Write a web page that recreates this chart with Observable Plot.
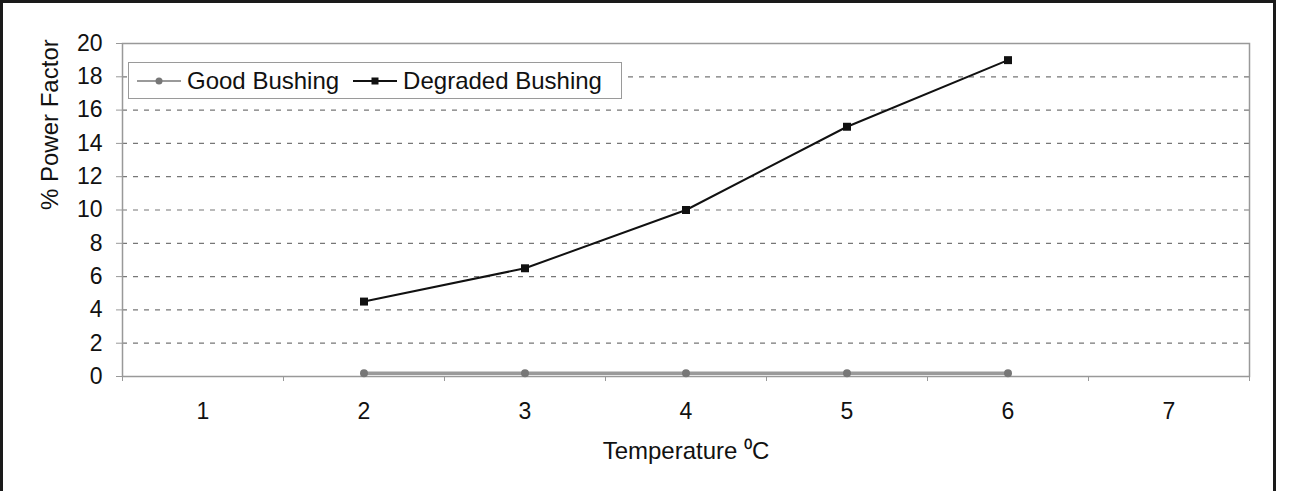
<!DOCTYPE html>
<html>
<head>
<meta charset="utf-8">
<script src="https://cdn.jsdelivr.net/npm/d3@7"></script>
<script src="https://cdn.jsdelivr.net/npm/@observablehq/plot@0.6"></script>
<style>
  html, body { margin: 0; padding: 0; background: #fff; }
  #wrap { position: relative; width: 1304px; height: 491px; font-family: "Liberation Sans", Arial, sans-serif; }
  #border { position: absolute; left: 0; top: 0; width: 1270px; height: 500px; border: 3px solid #1a1a1a; border-bottom: none; pointer-events: none; }
  #legend { position: absolute; left: 128px; top: 62px; width: 494px; height: 37px; border: 1px solid #9a9a9a; background: #fff;
            display: flex; align-items: center; font-size: 24px; color: #111; box-sizing: border-box; }
  #legend .item { display: flex; align-items: center; }
  #legend svg { display: block; }
</style>
</head>
<body>
<div id="wrap">
  <div id="chart"></div>
  <div id="legend"></div>
  <div id="border"></div>
</div>
<script>
// ---- data ----
const categories = [1, 2, 3, 4, 5, 6, 7];
const temperatures = [2, 3, 4, 5, 6];
const goodBushing = [0.2, 0.2, 0.2, 0.2, 0.2];
const degradedBushing = [4.5, 6.5, 10, 15, 19];
const yTicks = [0, 2, 4, 6, 8, 10, 12, 14, 16, 18, 20];
const seriesNames = ["Good Bushing", "Degraded Bushing"];
const yLabel = "% Power Factor";
const xLabel = "Temperature \u2070C";

// ---- derived tables ----
const good = temperatures.map((t, i) => ({t, v: goodBushing[i]}));
const degraded = temperatures.map((t, i) => ({t, v: degradedBushing[i]}));
const boundaries = categories.map(c => c - 0.5).concat([categories[categories.length - 1] + 0.5]);
const gridTicks = yTicks.slice(1, -1);

const chart = Plot.plot({
  width: 1304,
  height: 491,
  marginLeft: 122,
  marginRight: 55,
  marginTop: 43,
  marginBottom: 115,
  style: {fontFamily: "'Liberation Sans', Arial, sans-serif", background: "none", color: "#111"},
  x: {type: "linear", domain: [boundaries[0], boundaries[boundaries.length - 1]]},
  y: {domain: [yTicks[0], yTicks[yTicks.length - 1]]},
  marks: [
    Plot.gridY(gridTicks, {stroke: "#777", strokeOpacity: 1, strokeWidth: 1.2, strokeDasharray: "5,6"}),
    Plot.frame({stroke: "#999", strokeWidth: 1.5}),
    Plot.axisY(yTicks, {tickSize: 6, tickPadding: 14, fontSize: 23, stroke: "#999", label: null}),
    Plot.axisX(categories, {tickSize: 0, tickPadding: 26, fontSize: 23, tickFormat: d => String(d), label: null}),
    Plot.axisX(boundaries, {tickSize: 5, tickFormat: () => "", stroke: "#999", label: null}),
    Plot.text([yLabel], {frameAnchor: "left", rotate: -90, dx: -72, fontSize: 24, fill: "#111"}),
    Plot.text([xLabel], {frameAnchor: "bottom", dy: 82, fontSize: 24, fill: "#111"}),
    Plot.line(good, {x: "t", y: "v", stroke: "#9a9a9a", strokeWidth: 3.5}),
    Plot.dot(good, {x: "t", y: "v", r: 4, fill: "#777", stroke: "none"}),
    Plot.line(degraded, {x: "t", y: "v", stroke: "#111", strokeWidth: 2}),
    Plot.dot(degraded, {x: "t", y: "v", symbol: "square", r: 4.5, fill: "#111", stroke: "none"})
  ]
});
document.getElementById("chart").appendChild(chart);

// ---- legend ----
const legend = document.getElementById("legend");
const legendStyles = [
  {stroke: "#9a9a9a", width: 2, marker: "circle", fill: "#777"},
  {stroke: "#111", width: 2, marker: "square", fill: "#111"}
];
seriesNames.forEach((name, i) => {
  const s = legendStyles[i];
  const item = document.createElement("div");
  item.className = "item";
  item.style.marginLeft = i === 0 ? "8px" : "14px";
  const marker = s.marker === "circle"
    ? `<circle cx="22" cy="10" r="3.5" fill="${s.fill}"/>`
    : `<rect x="18.5" y="6.5" width="7" height="7" fill="${s.fill}"/>`;
  item.innerHTML = `<svg width="46" height="20"><line x1="0" y1="10" x2="44" y2="10" stroke="${s.stroke}" stroke-width="${s.width}"/>${marker}</svg><span style="margin-left:4px">${name}</span>`;
  legend.appendChild(item);
});
</script>
</body>
</html>
